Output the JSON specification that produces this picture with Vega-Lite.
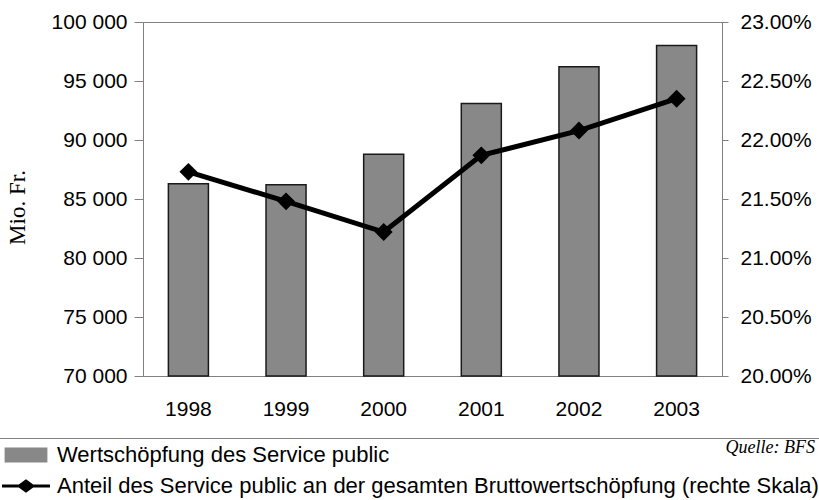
{
  "$schema": "https://vega.github.io/schema/vega-lite/v6.json",
  "width": 579,
  "height": 354,
  "autosize": "none",
  "padding": {"left": 143, "top": 22, "right": 97, "bottom": 124},
  "background": "white",
  "config": {
    "view": {"stroke": "#808080", "strokeWidth": 1},
    "axis": {"grid": false}
  },
  "title": {
    "text": "Quelle: BFS",
    "orient": "top",
    "anchor": "end",
    "frame": "group",
    "offset": -460,
    "baseline": "alphabetic",
    "dx": 93,
    "font": "Liberation Serif",
    "fontStyle": "italic",
    "fontWeight": "normal",
    "fontSize": 18,
    "color": "black"
  },
  "data": {
    "values": [
      {"year": "1998", "wert": 86300, "anteil": 0.2173},
      {"year": "1999", "wert": 86200, "anteil": 0.2148},
      {"year": "2000", "wert": 88800, "anteil": 0.2122},
      {"year": "2001", "wert": 93100, "anteil": 0.2187},
      {"year": "2002", "wert": 96200, "anteil": 0.2208},
      {"year": "2003", "wert": 98000, "anteil": 0.2235}
    ]
  },
  "encoding": {
    "x": {
      "field": "year",
      "type": "ordinal",
      "scale": {"paddingInner": 0.59, "paddingOuter": 0.26},
      "axis": {
        "title": null,
        "labelAngle": 0,
        "ticks": false,
        "domain": false,
        "labelPadding": 22,
        "labelFont": "Liberation Sans",
        "labelFontSize": 21,
        "labelColor": "black"
      }
    }
  },
  "layer": [
    {
      "mark": {"type": "bar", "stroke": "#1a1a1a", "strokeWidth": 1.5, "fillOpacity": 1, "opacity": 1},
      "encoding": {
        "y": {
          "field": "wert",
          "type": "quantitative",
          "scale": {"domain": [70000, 100000], "zero": false, "nice": false},
          "axis": {
            "orient": "left",
            "title": "Mio. Fr.",
            "titleFont": "Liberation Serif",
            "titleFontSize": 23,
            "titleFontWeight": "normal",
            "titleColor": "black",
            "titlePadding": 22,
            "titleY": 185,
            "values": [70000, 75000, 80000, 85000, 90000, 95000, 100000],
            "labelExpr": "replace(format(datum.value, ','), ',', ' ')",
            "labelFont": "Liberation Sans",
            "labelFontSize": 21,
            "labelColor": "black",
            "labelPadding": 7,
            "tickSize": 9,
            "tickColor": "#808080",
            "domainColor": "#808080"
          }
        },
        "y2": {"datum": 70000},
        "color": {
          "datum": "Wertschöpfung des Service public",
          "type": "nominal",
          "scale": {
            "domain": ["Wertschöpfung des Service public", "Anteil des Service public an der gesamten Bruttowertschöpfung (rechte Skala)"],
            "range": ["#888888", "#000000"]
          },
          "legend": {
            "orient": "none",
            "legendX": -148,
            "legendY": 416,
            "title": null,
            "direction": "vertical",
            "labelFont": "Liberation Sans",
            "labelFontSize": 22,
            "labelColor": "black",
            "labelLimit": 1000,
            "labelOffset": 20,
            "symbolOffset": 14,
            "rowPadding": 9,
            "padding": 6,
            "strokeColor": "#808080",
            "fillColor": "white",
            "symbolSize": 2304,
            "symbolOpacity": 1,
            "symbolType": {"expr": "datum.value === 'Wertschöpfung des Service public' ? 'M-0.85,-0.27H0.85V0.27H-0.85Z' : 'M-1,0H1M-0.28,0L0,-0.2L0.28,0L0,0.2Z'"},
            "symbolFillColor": {"expr": "datum.value === 'Wertschöpfung des Service public' ? '#888888' : '#000000'"},
            "symbolStrokeColor": {"expr": "datum.value === 'Wertschöpfung des Service public' ? '#1a1a1a' : '#000000'"},
            "symbolStrokeWidth": {"expr": "datum.value === 'Wertschöpfung des Service public' ? 2 : 3"}
          }
        }
      }
    },
    {
      "encoding": {
        "y": {
          "field": "anteil",
          "type": "quantitative",
          "scale": {"domain": [0.2, 0.23], "zero": false, "nice": false},
          "axis": {
            "orient": "right",
            "title": null,
            "values": [0.2, 0.205, 0.21, 0.215, 0.22, 0.225, 0.23],
            "format": ".2%",
            "labelFont": "Liberation Sans",
            "labelFontSize": 21,
            "labelColor": "black",
            "labelPadding": 12,
            "tickSize": 6,
            "tickColor": "#808080",
            "domainColor": "#808080"
          }
        },
        "color": {
          "datum": "Anteil des Service public an der gesamten Bruttowertschöpfung (rechte Skala)",
          "type": "nominal"
        }
      },
      "layer": [
        {"mark": {"type": "line", "strokeWidth": 5}},
        {"mark": {"type": "point", "shape": "diamond", "filled": true, "size": 320, "opacity": 1}}
      ]
    }
  ],
  "resolve": {"scale": {"y": "independent"}}
}
